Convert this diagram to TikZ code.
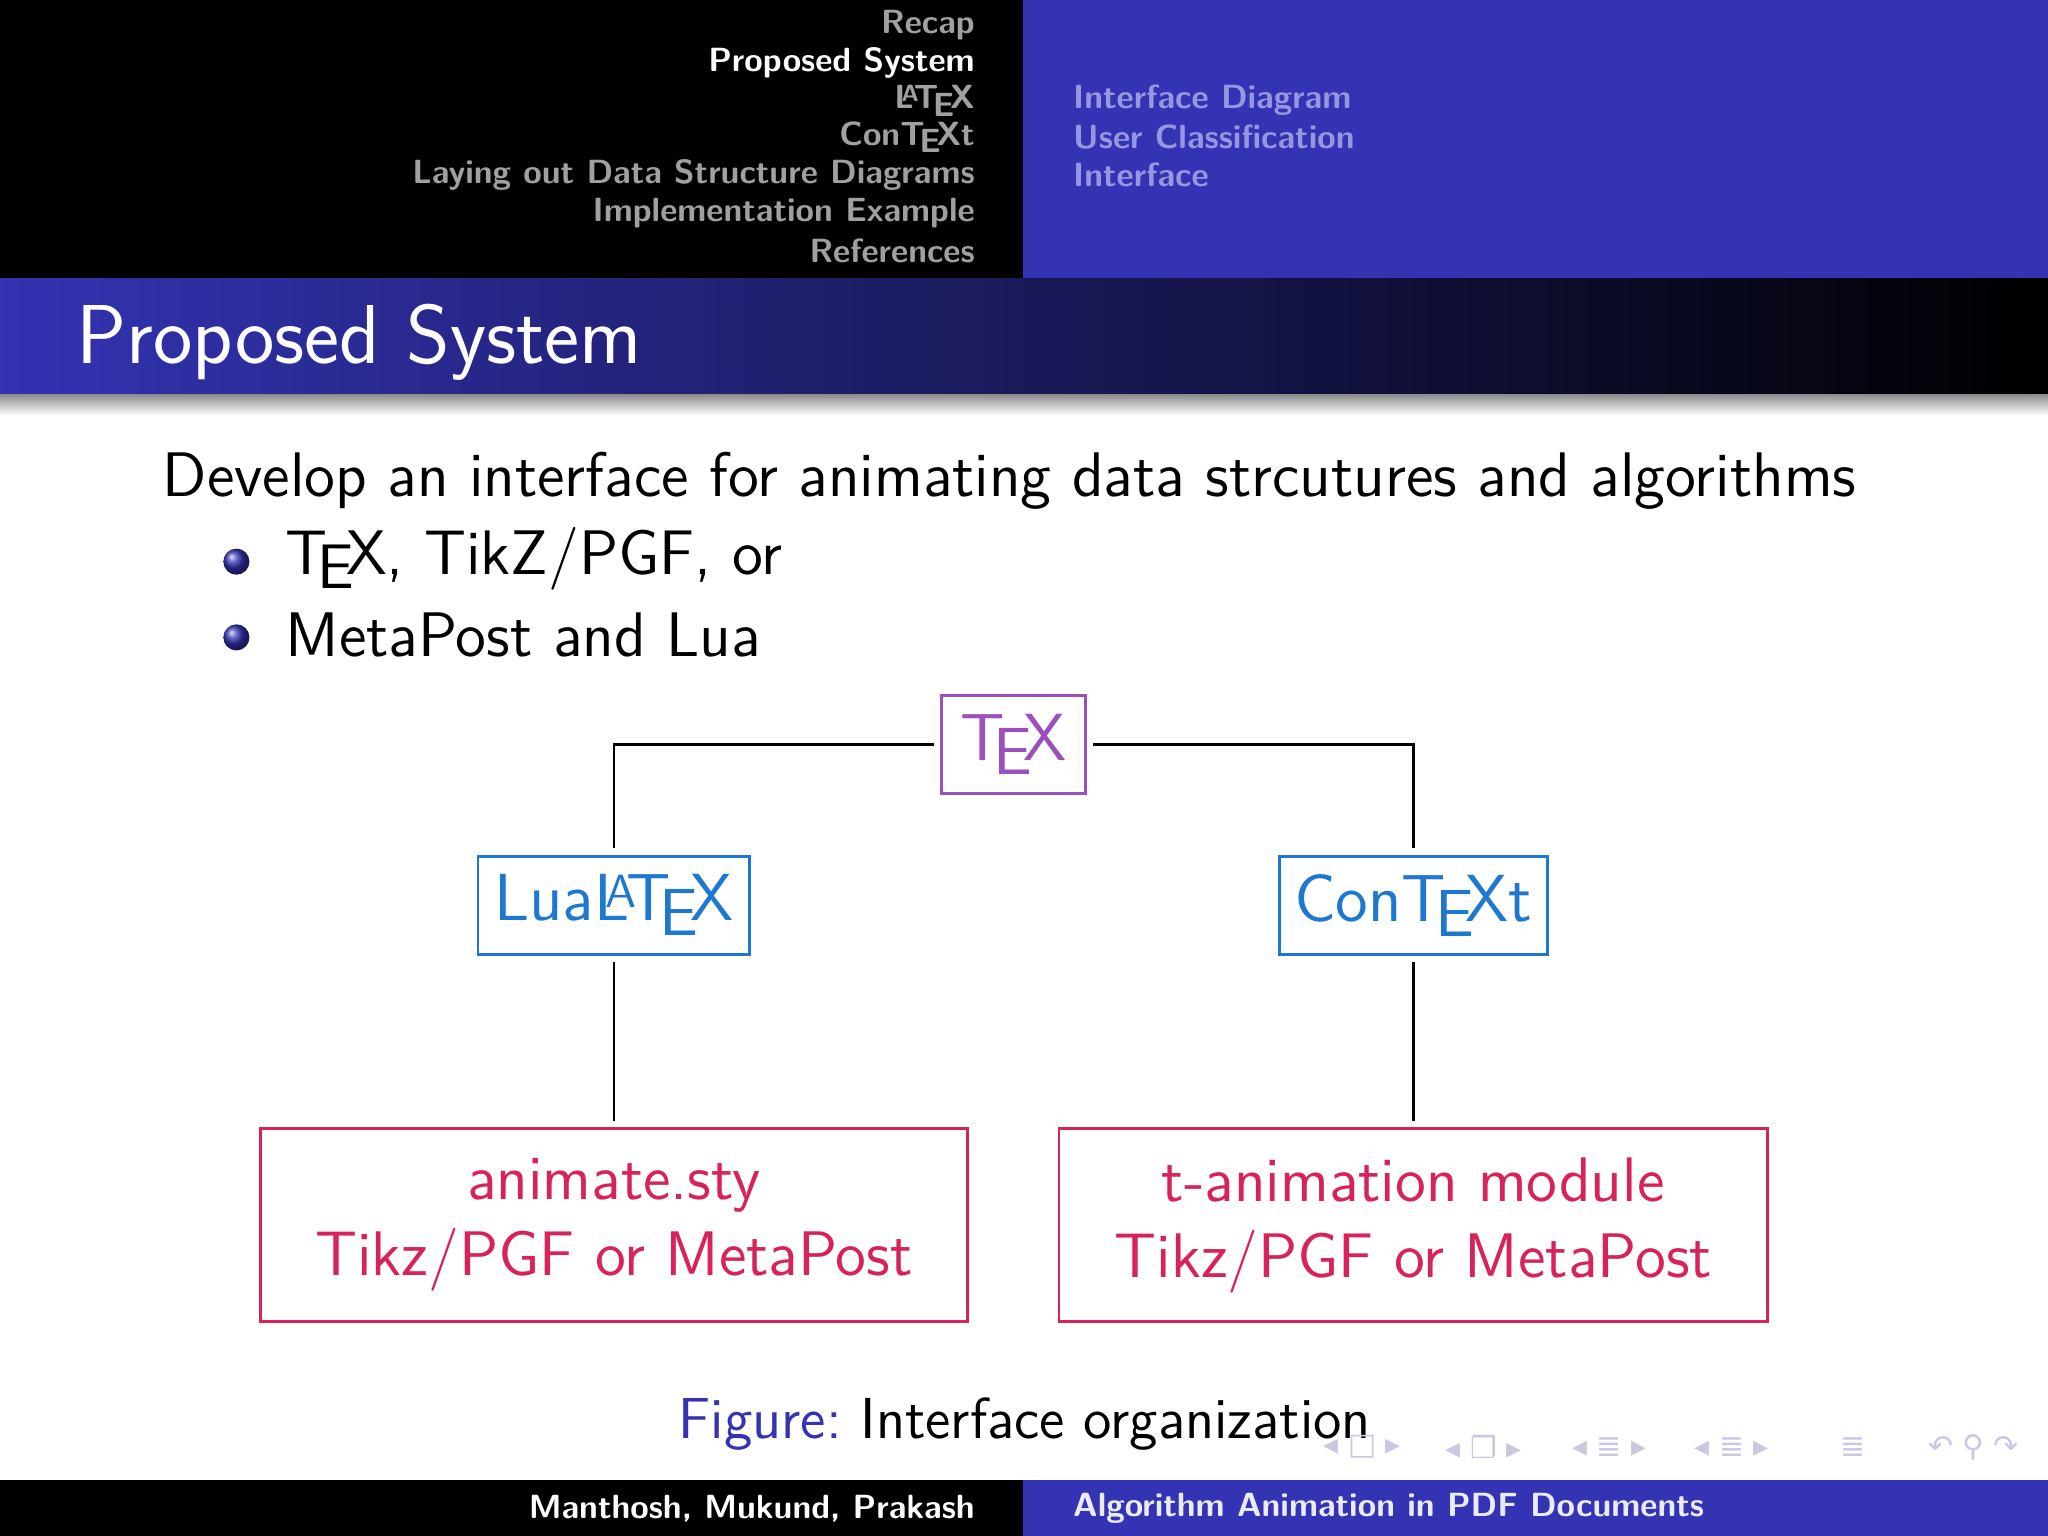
\documentclass[tikz,border=0pt]{standalone}
\usepackage{fontspec}
\newfontfamily\dejavu{DejaVu Sans}
\usetikzlibrary{shadings}
\definecolor{bblue}{RGB}{51,51,179}
\definecolor{hgray}{RGB}{160,160,160}
\definecolor{hlblue}{RGB}{150,150,225}
\definecolor{tpurple}{RGB}{155,80,190}
\definecolor{lblue}{RGB}{30,120,210}
\definecolor{lred}{RGB}{215,35,90}
\definecolor{navg}{RGB}{200,200,225}
\newcommand{\ctx}{Con\TeX t}
\tikzset{
  hd/.style={font=\sffamily\bfseries\fontsize{7.3}{8}\selectfont,inner sep=0pt},
  bx/.style={draw,line width=0.6pt,font=\sffamily,inner sep=0pt,outer sep=0.06cm},
  cn/.style={line width=0.6pt},
  nav/.style={font=\dejavu\fontsize{6.5}{7}\selectfont,text=navg,inner sep=0pt}
}
\begin{document}
\begin{tikzpicture}[x=0.01cm,y=-0.01cm]
\useasboundingbox (0,0) rectangle (1568,1176);
\fill[white] (0,0) rectangle (1568,1176);
% header
\fill[black] (0,0) rectangle (783,213);
\fill[bblue] (783,0) rectangle (1568,213);
\shade[left color=bblue,right color=black] (0,213) rectangle (1568,302);
\shade[top color=black!45,bottom color=white] (0,302) rectangle (1568,318);
\fill[black] (0,1133) rectangle (783,1176);
\fill[bblue] (783,1133) rectangle (1568,1176);
\node[hd,text=hgray,anchor=east] (h1) at (747,19) {Recap};
\node[hd,text=white,anchor=east] (h2) at (747,48) {Proposed System};
\node[hd,text=hgray,anchor=east] (h3) at (747,77) {\LaTeX};
\node[hd,text=hgray,anchor=east] (h4) at (747,105) {\ctx};
\node[hd,text=hgray,anchor=east] (h5) at (747,134) {Laying out Data Structure Diagrams};
\node[hd,text=hgray,anchor=east] (h6) at (747,163) {Implementation Example};
\node[hd,text=hgray,anchor=east] (h7) at (747,192) {References};
\node[hd,text=hlblue,anchor=west] (s1) at (821,77) {Interface Diagram};
\node[hd,text=hlblue,anchor=west] (s2) at (821,105) {User Classification};
\node[hd,text=hlblue,anchor=west] (s3) at (821,134) {Interface};
\node[font=\sffamily\fontsize{18.2}{20}\selectfont,text=white,anchor=west,inner sep=0pt] (title) at (58,262) {Proposed System};
\node[hd,text=white,anchor=east] (f1) at (747,1155) {Manthosh, Mukund, Prakash};
\node[hd,text=white!90!bblue,anchor=west] (f2) at (821,1155) {Algorithm Animation in PDF Documents};
% body
\node[font=\sffamily\fontsize{13.7}{15}\selectfont,anchor=west,inner sep=0pt] (t0) at (124,368) {Develop an interface for animating data strcutures and algorithms};
\shade[ball color=bblue] (181,430) circle (10);
\shade[ball color=bblue] (181,488) circle (10);
\node[font=\sffamily\fontsize{13.7}{15}\selectfont,anchor=west,inner sep=0pt] (t1) at (218,428) {\TeX, TikZ/PGF, or};
\node[font=\sffamily\fontsize{13.7}{15}\selectfont,anchor=west,inner sep=0pt] (t2) at (218,486) {MetaPost and Lua};
% diagram
\node[bx,draw=tpurple,text=tpurple,minimum width=1.1cm,minimum height=0.75cm,font=\sffamily\fontsize{14.5}{16}\selectfont] (tex) at (776,570) {\TeX};
\node[bx,draw=lblue,text=lblue,minimum width=2.08cm,minimum height=0.75cm,font=\sffamily\fontsize{14.5}{16}\selectfont] (lua) at (470,693) {Lua\LaTeX};
\node[bx,draw=lblue,text=lblue,minimum width=2.05cm,minimum height=0.75cm,font=\sffamily\fontsize{14.5}{16}\selectfont] (ctx) at (1082,693) {\ctx};
\node[bx,draw=lred,text=lred,minimum width=5.41cm,minimum height=1.48cm,align=center,font=\sffamily\fontsize{13.7}{16.5}\selectfont] (ani) at (470,938) {animate.sty\\Tikz/PGF or MetaPost};
\node[bx,draw=lred,text=lred,minimum width=5.42cm,minimum height=1.48cm,align=center,font=\sffamily\fontsize{13.7}{16.5}\selectfont] (tan) at (1082,938) {t-animation module\\Tikz/PGF or MetaPost};
\draw[cn] (tex.west) -| (lua.north);
\draw[cn] (tex.east) -| (ctx.north);
\draw[cn] (lua.south) -- (ani.north);
\draw[cn] (ctx.south) -- (tan.north);
\node[font=\sffamily\fontsize{12.6}{14}\selectfont,anchor=west,inner sep=0pt] (cap) at (519,1090) {\textcolor{bblue}{Figure:}\ Interface organization};
% navigation symbols
\node[nav] (n1) at (1043,1108) {◂ □ ▸};
\node[nav] (n2) at (1136,1108) {◂ ❐ ▸};
\node[nav] (n3) at (1232,1108) {◂ ≣ ▸};
\node[nav] (n4) at (1326,1108) {◂ ≣ ▸};
\node[nav] (n5) at (1419,1108) {≣};
\node[nav] (n6) at (1511,1108) {↶ ⚲ ↷};
\end{tikzpicture}
\end{document}
